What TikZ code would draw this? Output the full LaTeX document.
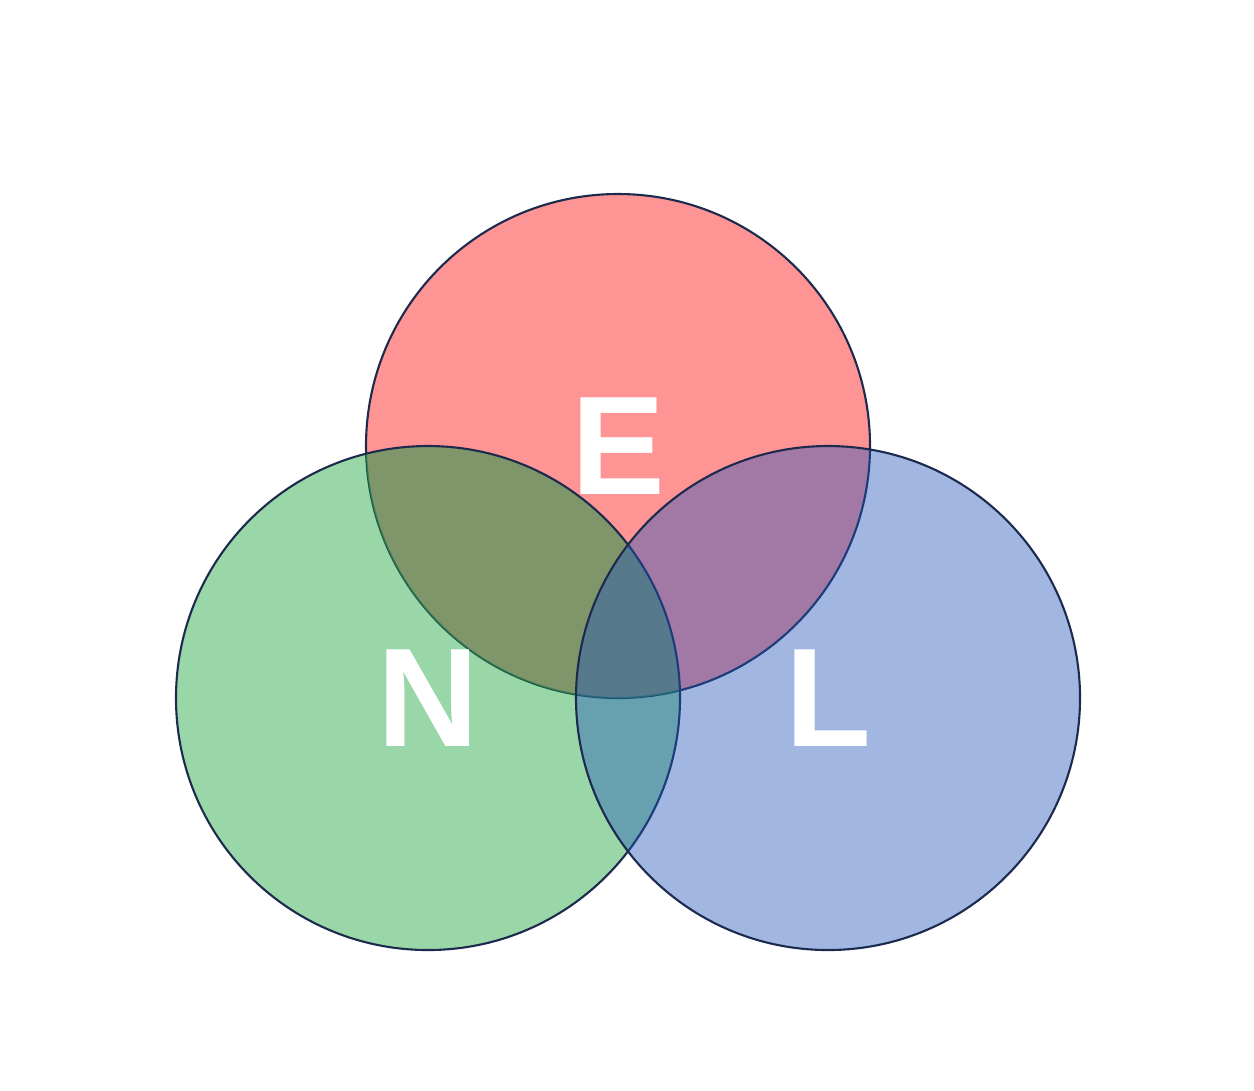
\documentclass[tikz,border=0pt]{standalone}
\usepackage{fontspec}
\newfontfamily\setfont{Liberation Sans}
\definecolor{setred}{RGB}{255, 0, 0}
\definecolor{setgreen}{RGB}{15, 160, 48}
\definecolor{setblue}{RGB}{31, 84, 186}
\definecolor{setmix}{RGB}{101, 148, 108}
\definecolor{setline}{RGB}{28, 42, 78}

\begin{document}
\begin{tikzpicture}[
  setcircle/.style={
    circle,
    draw=setline,
    line width=0.6pt,
    fill opacity=0.42,
    draw opacity=1,
    minimum size=5.04cm,
    inner sep=0pt
  },
  setlabel/.style={
    text=white,
    font=\setfont\bfseries\fontsize{40}{40}\selectfont,
    inner sep=0pt
  }
]
  \useasboundingbox (0,0) rectangle (12.54,-10.90);

  % Sets
  \node[setcircle, fill=setred] (E) at (6.18,-4.46) {};
  \node[setcircle, fill=setgreen,
    path picture={\fill[setmix, fill opacity=0.5] (E.center) circle (2.52cm);}] (N) at (4.28,-6.98) {};
  \node[setcircle, fill=setblue] (L) at (8.28,-6.98) {};

  % Labels
  \node[setlabel] (Etext) at (E.center) {E};
  \node[setlabel] (Ntext) at (N.center) {N};
  \node[setlabel] (Ltext) at (L.center) {L};

\end{tikzpicture}
\end{document}
